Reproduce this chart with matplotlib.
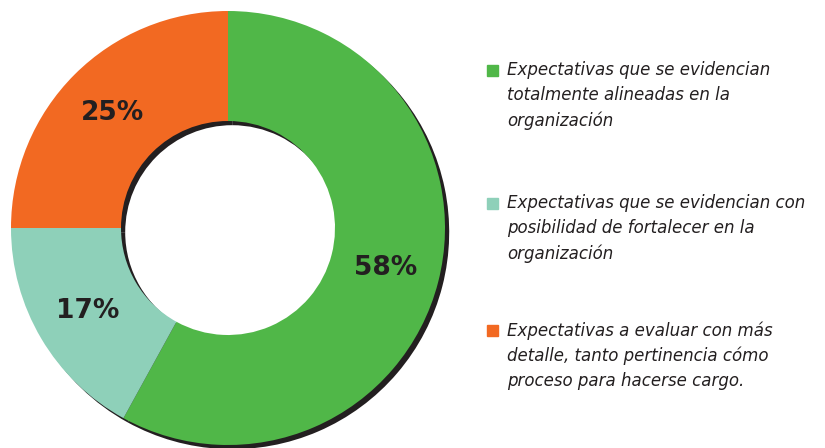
import matplotlib.pyplot as plt
from matplotlib.patches import Rectangle

# data
shares = [58, 17, 25]
colors = ["#50B748", "#8ED0B9", "#F26922"]
labels = [
    "Expectativas que se evidencian\ntotalmente alineadas en la\norganización",
    "Expectativas que se evidencian con\nposibilidad de fortalecer en la\norganización",
    "Expectativas a evaluar con más\ndetalle, tanto pertinencia cómo\nproceso para hacerse cargo.",
]

W, H = 825, 448
fig = plt.figure(figsize=(W / 100, H / 100), dpi=100)

# donut: center at (228, 228) px, outer radius 217 px
cx, cy, R = 228, 228, 217
half = 224
ax = fig.add_axes([(cx - half) / W, (H - cy - half) / H, 2 * half / W, 2 * half / H])
lim = half / R

width = 1 - 107 / R
off = 4.2 / R
# shadow ring behind
ax.pie(shares, colors=["#231F20"] * 3, startangle=90, counterclock=False,
       radius=1, center=(off, -off), frame=True,
       wedgeprops=dict(width=width, linewidth=0))
wedges, texts, autotexts = ax.pie(
    shares, colors=colors, startangle=90, counterclock=False, radius=1,
    frame=True, autopct=lambda p: f"{p:.0f}%", pctdistance=0.75,
    wedgeprops=dict(width=width, linewidth=0),
    textprops=dict(fontsize=19, fontweight="bold", color="#231F20",
                   family="DejaVu Sans"))
ax.set_xlim(-lim, lim)
ax.set_ylim(-lim, lim)
ax.set_aspect("equal")
ax.axis("off")

# legend drawn by hand
ys = [70, 203, 330]
for y, col, lab in zip(ys, colors, labels):
    fig.patches.append(Rectangle((487 / W, 1 - (y + 6) / H), 11 / W, 11 / H,
                                 transform=fig.transFigure, color=col))
    fig.text(507 / W, 1 - (y - 9) / H, lab, ha="left", va="top",
             fontsize=12, style="italic", color="#231F20",
             family="DejaVu Sans", linespacing=1.5)

fig.savefig("out.png", dpi=100)
